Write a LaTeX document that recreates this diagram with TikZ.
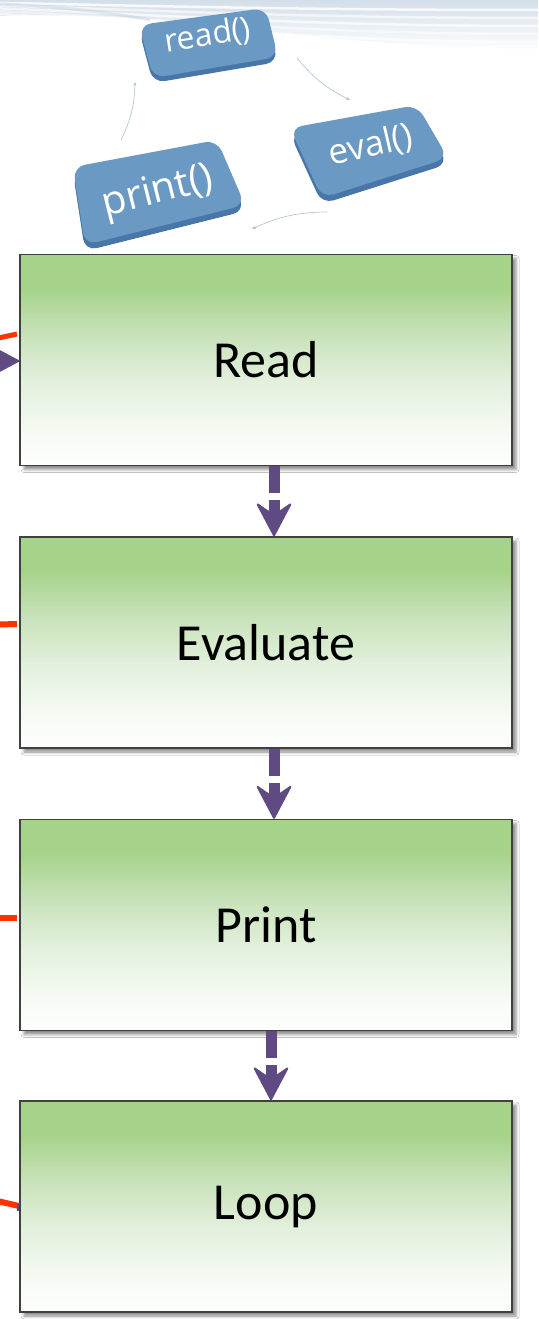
\documentclass[tikz,border=0pt]{standalone}
\usepackage{fontspec}
\usetikzlibrary{arrows.meta,shadows.blur}
\newfontfamily\tilefont{Open Sans}
\newfontfamily\boxfont{Carlito}

\definecolor{gtop}{RGB}{166,211,138}
\definecolor{gmid}{RGB}{200,226,186}
\definecolor{gpale}{RGB}{226,240,220}
\definecolor{glow}{RGB}{246,250,244}
\definecolor{gwhite}{RGB}{253,254,253}
\definecolor{boxedge}{RGB}{64,64,64}
\definecolor{flowpurple}{RGB}{96,74,130}
\definecolor{linkred}{RGB}{255,51,0}
\definecolor{tileface}{RGB}{106,153,196}
\definecolor{tileside}{RGB}{72,118,168}
\definecolor{cyclecol}{RGB}{170,192,214}
\definecolor{swoosh}{RGB}{206,219,231}

% vertical fade of the step boxes: green at the top, white at the bottom
\pgfdeclareverticalshading{boxgrad}{100bp}{color(0bp)=(gwhite); color(25bp)=(gwhite);
  color(33bp)=(glow); color(45bp)=(gpale); color(56bp)=(gmid); color(67bp)=(gtop); color(100bp)=(gtop)}

\tikzset{
  flowbox/.style={draw=boxedge, line width=1.4pt, shading=boxgrad,
    minimum width=492pt, minimum height=211pt, inner sep=0pt,
    font=\boxfont\fontsize{52}{60}\selectfont, text=black,
    blur shadow={shadow xshift=4pt, shadow yshift=-4pt, shadow blur radius=3pt, shadow opacity=45}},
  flowarrow/.style={draw=flowpurple, line width=11pt, dash pattern=on 27pt off 7pt on 200pt,
    -{Stealth[length=36pt, width=38pt, inset=13pt, round, line width=2pt]}},
  sidearrow/.style={draw=flowpurple, line width=7pt,
    -{Stealth[length=34pt, width=36pt, inset=13pt, round, line width=2pt]}},
  redlink/.style={draw=linkred, line width=6pt},
  tileface/.style={fill=tileface, rounded corners=12pt},
  tileside/.style={fill=tileside, rounded corners=12pt},
  tiletext/.style={text=white, inner sep=0pt},
  cycle/.style={draw=cyclecol, line width=0.6pt, -{Stealth[length=4pt, width=3pt]}},
}

\begin{document}
\begin{tikzpicture}[x=1pt, y=-1pt]
\useasboundingbox (0,0) rectangle (538,1319);
\clip (0,0) rectangle (538,1319);
\fill[white] (0,0) rectangle (538,1319);

% soft ribbon across the top edge
\shade[top color=swoosh, bottom color=white, opacity=0.9]
  (0,0) -- (538,0) -- (538,50) .. controls (420,48) and (300,36) .. (200,24)
  .. controls (120,16) and (60,14) .. (0,16) -- cycle;
\foreach \yy/\op in {8/0.8, 16/0.6, 24/0.7, 32/0.5, 40/0.6}{
  \draw[white, line width=2.5pt, opacity=\op]
    (0,\yy*0.35) .. controls (150,\yy*0.5+2) and (300,\yy+2) .. (538,\yy+2);
}
\draw[swoosh!80!gray, line width=3pt, opacity=0.35]
  (0,4) .. controls (60,6) and (120,14) .. (150,20);

% step boxes
\node[flowbox] (read)  at (266,360)   {Read};
\node[flowbox] (eval)  at (266,642.5) {Evaluate};
\node[flowbox] (print) at (266,925)   {Print};
\node[flowbox] (loop)  at (266,1206.5){Loop};

% flow between the steps
\draw[flowarrow] ([xshift=8pt]read.south)  -- ([xshift=8pt]eval.north);
\draw[flowarrow] ([xshift=8pt]eval.south)  -- ([xshift=8pt]print.north);
\draw[flowarrow] ([xshift=5pt]print.south) -- ([xshift=5pt]loop.north);

% links entering from the left margin
\coordinate (inread) at (-50,361);
\draw[sidearrow] (inread) -- ([yshift=-1pt]read.west);

\coordinate (ra) at (-20,342);  \coordinate (rb) at (17,334);
\draw[redlink, line width=5pt] (ra) -- (rb);
\coordinate (ea) at (-20,625);  \coordinate (eb) at (17,624);
\draw[redlink] (ea) -- (eb);
\coordinate (pa) at (-20,918);  \coordinate (pb) at (17,918);
\draw[redlink] (pa) -- (pb);
\coordinate (la) at (-20,1197); \coordinate (lb) at (19,1206);
\draw[redlink] (la) -- (lb);
\coordinate (lc) at (17,1207);
\draw[flowpurple, line width=7pt] (lc) -- ([yshift=-0.5pt]loop.west);

% the three tiles of the REPL cycle
\begin{scope}[yshift=-5pt]
  \fill[tileside] (139,25) -- (266,8) -- (278,57) -- (153,78) -- cycle;
\end{scope}
\fill[tileface] (139,25) -- (266,8) -- (278,57) -- (153,78) -- cycle;
\node[tiletext, rotate=9, font=\tilefont\fontsize{32}{33}\selectfont] (tread) at (208,36) {read()};

\begin{scope}[yshift=-6pt]
  \fill[tileside] (290,128) -- (417,105) -- (448,158) -- (322,198) -- cycle;
\end{scope}
\fill[tileface] (290,128) -- (417,105) -- (448,158) -- (322,198) -- cycle;
\node[tiletext, rotate=13, font=\tilefont\fontsize{35}{36}\selectfont] (teval) at (371,146) {eval()};

\begin{scope}[yshift=-6pt]
  \fill[tileside] (73,167) -- (217,140) -- (245,205) -- (85,245) -- cycle;
\end{scope}
\fill[tileface] (73,167) -- (217,140) -- (245,205) -- (85,245) -- cycle;
\node[tiletext, rotate=14, font=\tilefont\fontsize{40}{41}\selectfont] (tprint) at (158,193) {print()};

% faint arcs joining the tiles
\coordinate (c1a) at (297,58);  \coordinate (c1b) at (350,100);
\coordinate (c2a) at (327,212); \coordinate (c2b) at (252,229);
\coordinate (c3a) at (121,140); \coordinate (c3b) at (135,82);
\draw[cycle] (c1a) to[bend right=12] (c1b);
\draw[cycle] (c2a) to[bend right=12] (c2b);
\draw[cycle] (c3a) to[bend right=12] (c3b);
\end{tikzpicture}
\end{document}
